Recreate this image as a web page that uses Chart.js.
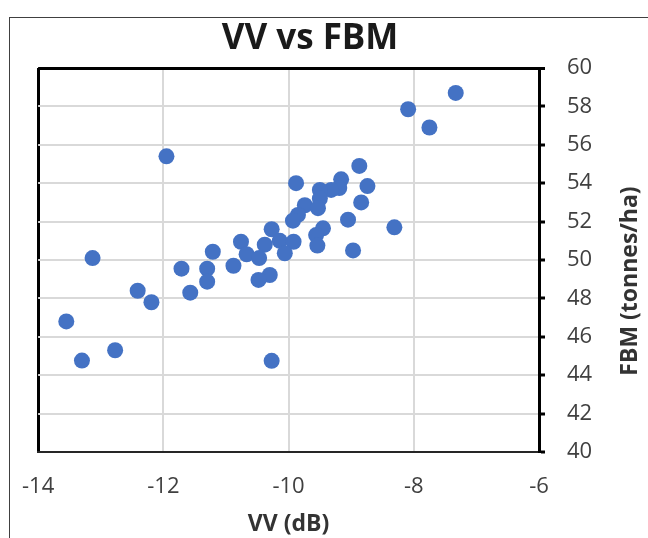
<!DOCTYPE html>
<html>
<head>
<meta charset="utf-8">
<title>VV vs FBM</title>
<script src="https://cdn.jsdelivr.net/npm/chart.js@4.4.0/dist/chart.umd.min.js"></script>
<style>
  html, body { margin: 0; padding: 0; background: #fff; }
</style>
</head>
<body>
<canvas id="chart" width="648" height="538"></canvas>
<script>
// VV backscatter (dB) vs field biomass (tonnes/ha)
const vv = [
    -11.95, -9.88, -8.87, -9.16, -8.74, -9.19, -9.32, -9.50, -9.50, -8.84,
    -9.74, -9.53, -9.85, -9.93, -9.05, -10.27, -9.45, -8.31, -9.56, -10.14,
    -9.92, -10.76, -10.38, -9.54, -8.97, -11.21, -10.67, -10.06, -10.47, -13.13,
    -10.88, -11.71, -11.30, -10.30, -10.48, -11.30, -12.41, -11.57, -12.19, -13.55,
    -12.77, -13.30, -10.27, -8.09, -7.75, -7.33
];
const fbm = [
    55.4, 54.0, 54.9, 54.2, 53.85, 53.75, 53.65, 53.65, 53.2, 53.0,
    52.85, 52.7, 52.35, 52.05, 52.1, 51.6, 51.65, 51.7, 51.3, 51.0,
    50.95, 50.95, 50.8, 50.75, 50.5, 50.43, 50.3, 50.35, 50.1, 50.1,
    49.7, 49.55, 49.55, 49.22, 48.96, 48.87, 48.4, 48.3, 47.8, 46.8,
    45.3, 44.76, 44.75, 57.85, 56.9, 58.7
];
const xTicks = [-14, -12, -10, -8, -6];
const yTicks = [40, 42, 44, 46, 48, 50, 52, 54, 56, 58, 60];

const chartTitle = 'VV vs FBM';
const xTitle = 'VV (dB)';
const yTitle = 'FBM (tonnes/ha)';

const FONT = "'Open Sans', 'Liberation Sans', sans-serif";

// thin frame round the whole chart (it runs off the right and bottom edge)
const framePlugin = {
    id: 'frame',
    beforeDraw(chart) {
        const ctx = chart.ctx;
        ctx.save();
        ctx.strokeStyle = '#404040';
        ctx.lineWidth = 1;
        ctx.strokeRect(9.5, 17.5, 700, 600);
        ctx.restore();
    }
};

// chart title and the right-hand axis title (reads bottom to top)
const textPlugin = {
    id: 'texts',
    afterDraw(chart) {
        const ctx = chart.ctx;
        ctx.save();
        ctx.fillStyle = '#1a1a1a';
        ctx.textAlign = 'center';
        ctx.textBaseline = 'middle';
        ctx.font = 'bold 35px ' + FONT;
        ctx.fillText(chartTitle, 310, 39);

        ctx.fillStyle = '#333333';
        ctx.font = 'bold 23px ' + FONT;
        ctx.translate(630, 281);
        ctx.rotate(-Math.PI / 2);
        ctx.fillText(yTitle, 0, 0);
        ctx.restore();
    }
};

const points = vv.map((v, i) => ({ x: v, y: fbm[i] }));

new Chart(document.getElementById('chart'), {
    type: 'scatter',
    data: {
        datasets: [{
            data: points,
            backgroundColor: '#4472C4',
            borderWidth: 0,
            pointRadius: 8,
            pointHoverRadius: 8
        }]
    },
    options: {
        responsive: false,
        devicePixelRatio: 1,
        animation: false,
        layout: { padding: { left: 35, top: 68, right: 0, bottom: 0 } },
        plugins: {
            legend: { display: false },
            tooltip: { enabled: false }
        },
        scales: {
            x: {
                type: 'linear',
                min: -14,
                max: -6,
                afterBuildTicks: s => { s.ticks = xTicks.map(v => ({ value: v })); },
                afterFit: s => { s.height = 86; },
                ticks: {
                    padding: 22,
                    color: '#404040',
                    font: { family: FONT, size: 22 }
                },
                grid: {
                    drawTicks: false,
                    color: c => (c.tick && c.tick.value === -14) ? '#000000' : '#d9d9d9',
                    lineWidth: c => (c.tick && c.tick.value === -14) ? 3 : 2
                },
                border: { color: '#262626', width: 2 },
                title: {
                    display: true,
                    text: xTitle,
                    color: '#333333',
                    font: { family: FONT, size: 23, weight: 'bold' },
                    padding: { top: 0, bottom: 0 }
                }
            },
            y: {
                type: 'linear',
                position: 'right',
                min: 40,
                max: 60,
                afterBuildTicks: s => { s.ticks = yTicks.map(v => ({ value: v })); },
                afterFit: s => { s.width = 109; },
                ticks: {
                    padding: 22,
                    color: '#404040',
                    font: { family: FONT, size: 22 }
                },
                grid: {
                    tickLength: 6,
                    tickWidth: 3,
                    tickColor: '#000000',
                    color: c => (c.tick && c.tick.value === 60) ? '#000000' : '#d9d9d9',
                    lineWidth: c => (c.tick && c.tick.value === 60) ? 3 : 2
                },
                border: { color: '#000000', width: 3 }
            }
        }
    },
    plugins: [framePlugin, textPlugin]
});
</script>
</body>
</html>
